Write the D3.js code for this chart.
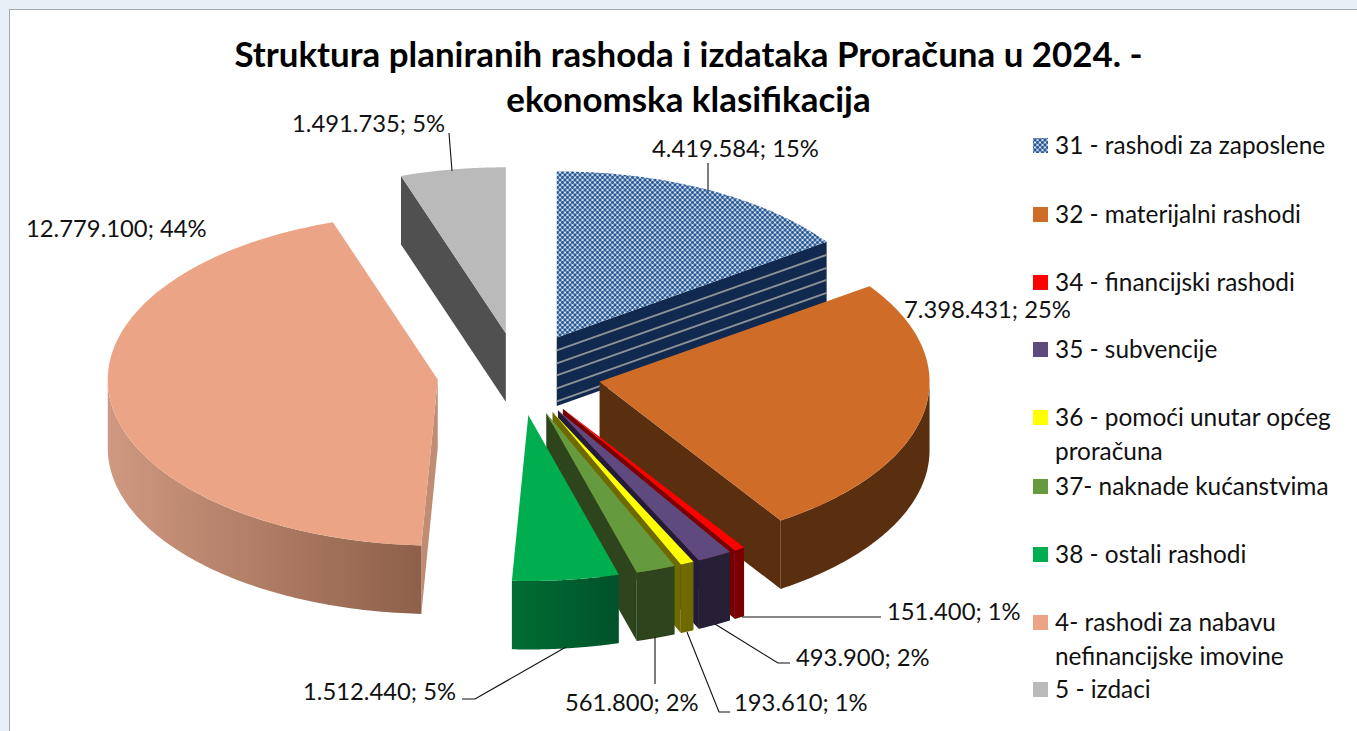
<!DOCTYPE html>
<html><head><meta charset="utf-8">
<script src="https://cdnjs.cloudflare.com/ajax/libs/d3/7.8.5/d3.min.js"></script>
<style>html,body{margin:0;padding:0;background:#E8EFF7;overflow:hidden}svg{display:block}text{font-family:Lato,"Open Sans",sans-serif;fill:#111}</style>
</head><body><svg id="c" width="1357" height="731"></svg>
<script>
// ---- data
const titleLines = ["Struktura planiranih rashoda i izdataka Proračuna u 2024. -", "ekonomska klasifikacija"];
const categories = [
  ["31 - rashodi za zaposlene"],
  ["32 - materijalni rashodi"],
  ["34 - financijski rashodi"],
  ["35 - subvencije"],
  ["36 - pomoći unutar općeg", "proračuna"],
  ["37- naknade kućanstvima"],
  ["38 - ostali rashodi"],
  ["4- rashodi za nabavu", "nefinancijske imovine"],
  ["5 - izdaci"]
];
const values = [4419584, 7398431, 151400, 493900, 193610, 561800, 1512440, 12779100, 1491735];
const percents = [15, 25, 1, 2, 1, 2, 5, 44, 5];
const valueLabels = ["4.419.584", "7.398.431", "151.400", "493.900", "193.610", "561.800", "1.512.440", "12.779.100", "1.491.735"];
// ---- styles and layout
const topColors = ["url(#weave)", "#CF6D28", "#FF0000", "#5F4A80", "#FFFF00", "#659A3F", "#00AE50", "#EBA586", "#BABABA"];
const wallFrom = ["#12294F", "#5A2F10", "#7A0000", "#271F36", "#6E6A00", "#2D441C", "#006D33", "#D09880", "#505050"];
const wallTo =   ["#12294F", "#5A2F10", "#7A0000", "#271F36", "#6E6A00", "#2D441C", "#00522A", "#8E6049", "#505050"];
const sideColors = ["#12294F", "#5A2F10", "#7A0000", "#221C3A", "#6E6A00", "#2D441C", "#00522A", "#C08C74", "#505050"];
const legendY = [145, 214, 282, 349, 417, 486, 554, 622, 689];
const labelX = [652, 904, 887, 796, 734, 565, 303, 26, 292];
const labelY = [148, 309, 611, 657, 702, 702, 691, 228, 123];
const leaders = [
  [[708,163],[708,191]], null, [[742,617],[881,617]],
  [[715,624],[778,663],[790,663]], [[687,632],[719,712],[730,712]],
  [[655,637],[655,684]], [[566,647],[475,699],[462,699]], null,
  [[449,133],[452,171]]
];
const drawOrder = [8, 0, 7, 1, 2, 3, 4, 5, 6];
const cx = 519, cy = 374, rx = 330, ry = 166, explode = 82, depth = 68.5;
const stripeOffsets = [13, 26, 38, 51, 64];

const svg = d3.select("#c");
const defs = svg.append("defs");
const pat = defs.append("pattern").attr("id", "weave").attr("width", 5).attr("height", 5).attr("patternUnits", "userSpaceOnUse");
pat.append("rect").attr("width", 5).attr("height", 5).attr("fill", "#94B3D8");
[[0,0],[5,0],[0,5],[5,5],[2.5,2.5]].forEach(p => pat.append("circle").attr("cx", p[0]).attr("cy", p[1]).attr("r", 1.45).attr("fill", "#2B5892"));
[[2.5,0],[0,2.5],[5,2.5],[2.5,5]].forEach(p => pat.append("circle").attr("cx", p[0]).attr("cy", p[1]).attr("r", .8).attr("fill", "#EEF4FB"));

svg.append("rect").attr("x", 9.5).attr("y", 9.5).attr("width", 1360).attr("height", 740).attr("fill", "#fff").attr("stroke", "#A3A8AD");

const arcs = d3.pie().value(d => d).sort(null).startAngle(0).endAngle(2 * Math.PI)(values);
const sx = d3.scaleLinear().domain([-1, 1]).range([-rx, rx]);
const sy = d3.scaleLinear().domain([-1, 1]).range([-ry, ry]);
const pt = (a, o, dz = 0) => [o[0] + sx(Math.sin(a)), o[1] + sy(-Math.cos(a)) + dz];
const line = d3.line();
const angles = (a0, a1) => d3.range(0, 101).map(i => a0 + (a1 - a0) * i / 100);

const g = svg.append("g");
drawOrder.forEach(i => {
  const d = arcs[i], mid = (d.startAngle + d.endAngle) / 2;
  const o = [cx + sx(explode / rx * Math.sin(mid)), cy + sy(-explode / rx * Math.cos(mid))];
  const a0 = d.startAngle, a1 = d.endAngle;
  const s = g.append("g");
  // radial walls: the end edge faces the viewer when sin>0, the start edge when sin<0
  [[a0, Math.sin(a0) < -1e-6], [a1, Math.sin(a1) > 1e-6]].forEach(([a, visible]) => {
    if (!visible) return;
    const p = pt(a, o);
    s.append("path").attr("fill", sideColors[i]).attr("d",
      line([o, p, [p[0], p[1] + depth], [o[0], o[1] + depth]]) + "Z");
    if (i === 0) stripeOffsets.forEach(off =>
      s.append("path").attr("stroke", "#8D9298").attr("stroke-width", 2).attr("fill", "none")
        .attr("d", line([[o[0], o[1] + off], [p[0], p[1] + off]])));
  });
  // outer wall
  const w0 = Math.max(a0, Math.PI / 2), w1 = Math.min(a1, 3 * Math.PI / 2);
  if (w1 > w0) {
    const as = angles(w0, w1);
    const top = as.map(a => pt(a, o));
    const bot = as.map(a => pt(a, o, depth)).reverse();
    const xs = d3.extent(top, p => p[0]);
    const gid = "w" + i;
    const lg = defs.append("linearGradient").attr("id", gid).attr("gradientUnits", "userSpaceOnUse")
      .attr("x1", xs[0]).attr("x2", xs[1]).attr("y1", 0).attr("y2", 0);
    lg.append("stop").attr("offset", 0).attr("stop-color", wallFrom[i]);
    lg.append("stop").attr("offset", 1).attr("stop-color", wallTo[i]);
    s.append("path").attr("fill", `url(#${gid})`).attr("d", line(top.concat(bot)) + "Z");
  }
  // top face
  s.append("path").attr("fill", topColors[i]).attr("d", line([o].concat(angles(a0, a1).map(a => pt(a, o)))) + "Z");
});

// leaders
leaders.forEach(l => { if (l) svg.append("path").attr("d", line(l)).attr("fill", "none").attr("stroke", "#111").attr("stroke-width", 1.1); });
// labels
valueLabels.forEach((v, i) => svg.append("text").attr("x", labelX[i]).attr("y", labelY[i]).attr("dy", "0.36em")
  .attr("font-size", 23.8).text(`${v}; ${percents[i]}%`));
// title
titleLines.forEach((t, i) => svg.append("text").attr("x", 688.5).attr("y", 67 + i * 45).attr("text-anchor", "middle")
  .attr("font-size", 34.9).attr("font-weight", 700).style("fill", "#000").text(t));
// legend
const legend = svg.append("g");
categories.forEach((c, i) => {
  legend.append("rect").attr("x", 1033).attr("y", legendY[i] - 7).attr("width", 15).attr("height", 15)
    .attr("fill", topColors[i]);
  c.forEach((t, j) => legend.append("text").attr("x", 1055).attr("y", legendY[i] + j * 34).attr("dy", "0.36em")
    .attr("font-size", 24.4).text(t));
});
</script></body></html>
